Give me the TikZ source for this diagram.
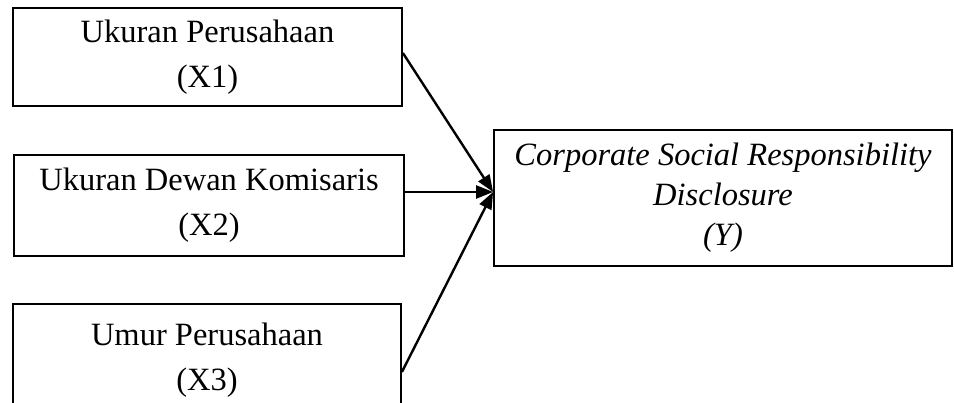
\documentclass[tikz,border=0pt]{standalone}
\usepackage{fontspec}
\setmainfont{Liberation Serif}
\usetikzlibrary{arrows.meta}
\begin{document}
\begin{tikzpicture}[x=1pt,y=-1pt,
  box/.style={draw, line width=1.8pt, align=center, inner sep=0pt, font=\fontsize{32.5}{45}\selectfont},
  link/.style={line width=2.4pt, -{Triangle[length=17pt,width=13pt]}}]
\useasboundingbox (0,0) rectangle (954,403);
\clip (0,0) rectangle (954,403);
\node[box, minimum width=389pt, minimum height=98pt] (x1) at (207.5,57) {Ukuran Perusahaan\\(X1)};
\node[box, minimum width=390pt, minimum height=101pt] (x2) at (209,205.5) {Ukuran Dewan Komisaris\\(X2)};
\node[box, minimum width=388pt, minimum height=112pt] (x3) at (207,360) {Umur Perusahaan\\(X3)};
\node[box, minimum width=458pt, minimum height=136pt, font=\itshape\fontsize{32.5}{40}\selectfont] (y) at (723,198) {Corporate Social Responsibility\\Disclosure\\(Y)};
\coordinate (t) at ([yshift=6pt]y.west);
\draw[link] ([yshift=4pt]x1.east) -- (t);
\draw[link] (x2.east |- t) -- (t);
\draw[link] ([yshift=-12pt]x3.east) -- (t);
\end{tikzpicture}
\end{document}
